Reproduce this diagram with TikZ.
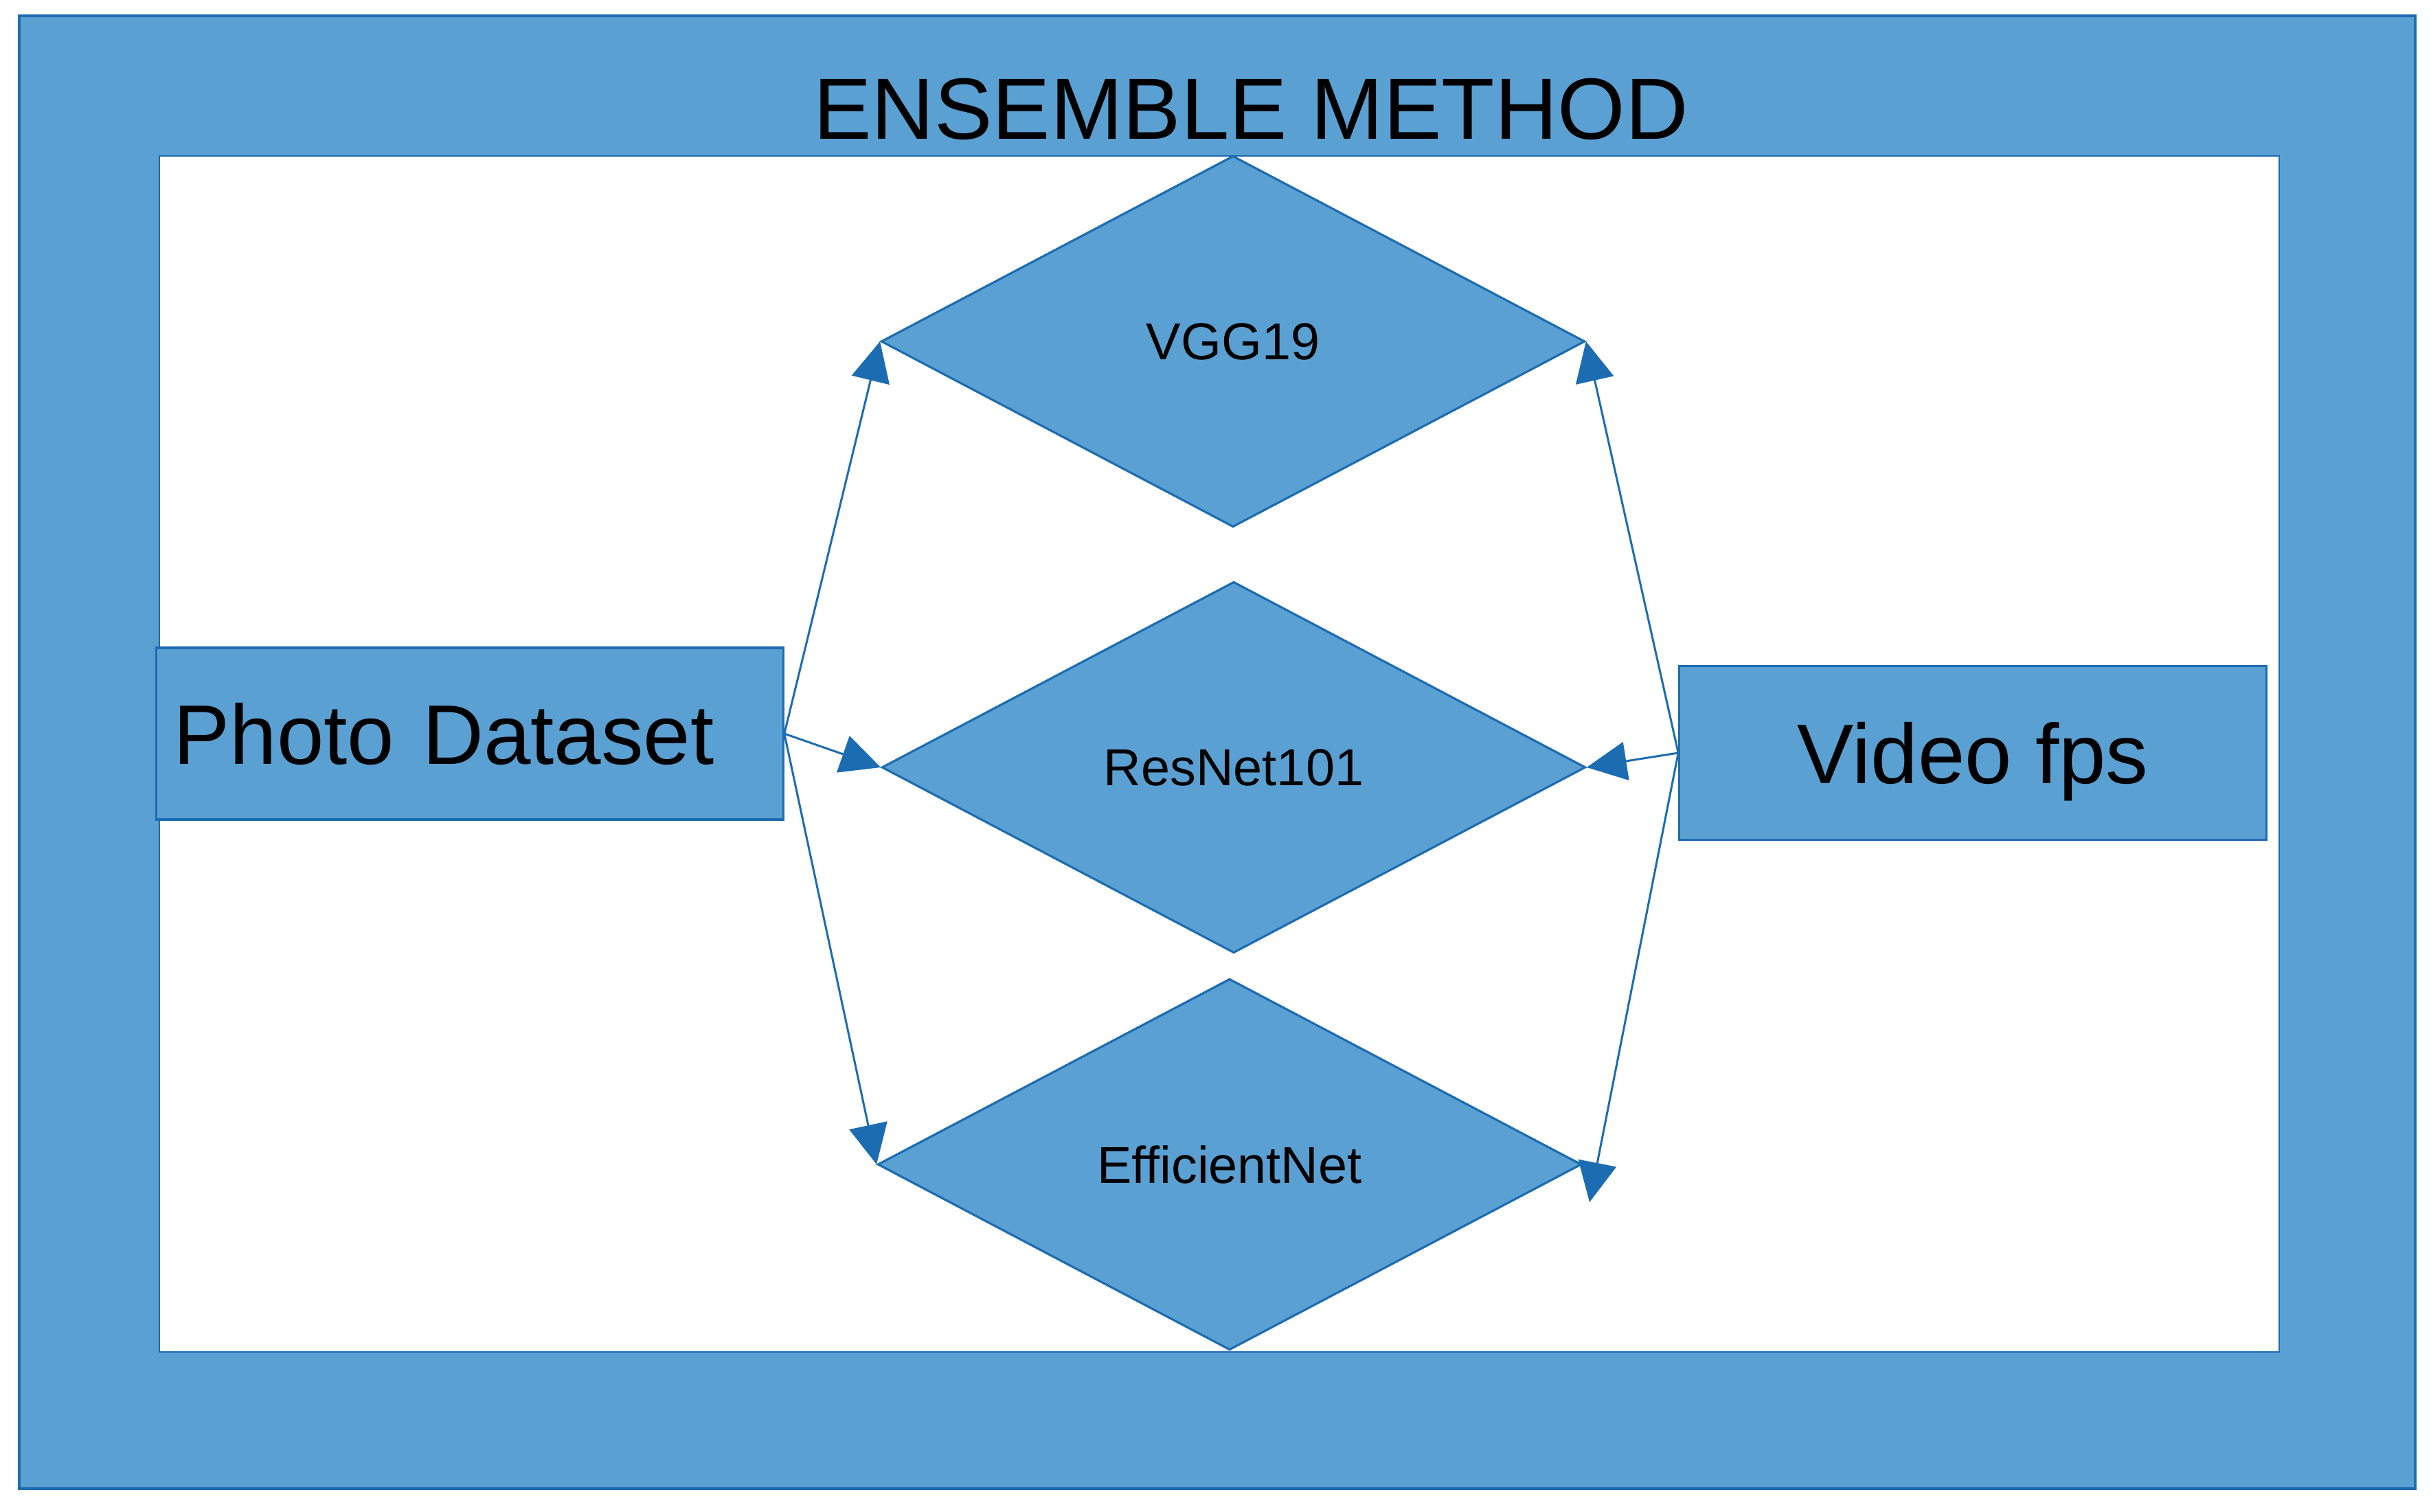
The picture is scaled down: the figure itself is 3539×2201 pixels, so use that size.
\documentclass[tikz,border=0pt]{standalone}
\usepackage{fontspec}
\setmainfont{Liberation Sans}
\usetikzlibrary{shapes.geometric,arrows.meta}
\definecolor{boxblue}{RGB}{91,160,210}
\definecolor{lineblue}{RGB}{28,108,178}
\tikzset{
  model/.style={diamond, draw=lineblue, fill=boxblue, line width=0.9pt, inner sep=0pt,
    minimum width=10.24cm, minimum height=5.4cm, font=\fontsize{21.5}{24}\selectfont},
  inputbox/.style={rectangle, draw=lineblue, fill=boxblue, line width=0.9pt, text depth=0pt,
    font=\fontsize{35}{40}\selectfont},
  link/.style={draw=lineblue, line width=0.85pt, -{Triangle[length=0.58cm, width=0.56cm]}}
}
\begin{document}
\begin{tikzpicture}[x=0.01cm, y=-0.01cm]
  \useasboundingbox (0,0) rectangle (3539,2201);
  \draw [fill=boxblue, draw=lineblue, line width=1.1pt] (28,23) rectangle (3516,2167);
  \draw [fill=white, draw=lineblue, line width=0.6pt] (232,227) rectangle (3318,1968);
  \node (title) [anchor=base, font=\fontsize{36}{40}\selectfont] at (1821,203) {ENSEMBLE METHOD};

  \node (vgg) [model] at (1795,497) {VGG19};
  \node (resnet) [model] at (1796,1117) {ResNet101};
  \node (effnet) [model] at (1790,1695) {EfficientNet};

  \node (photo) [inputbox, text width=8.62cm, align=left, inner xsep=0.25cm, minimum height=2.5cm] at (684,1068) {Photo Dataset};
  \node (video) [inputbox, minimum width=8.54cm, minimum height=2.53cm] at (2872,1096) {Video fps};
  \coordinate (effend) at (2314,1750);

  \draw [link] (photo.east) -- (vgg.west);
  \draw [link] (photo.east) -- (resnet.west);
  \draw [link] (photo.east) -- (effnet.west);
  \draw [link] (video.west) -- (vgg.east);
  \draw [link] (video.west) -- (resnet.east);
  \draw [link] (video.west) -- (effend);
\end{tikzpicture}
\end{document}
